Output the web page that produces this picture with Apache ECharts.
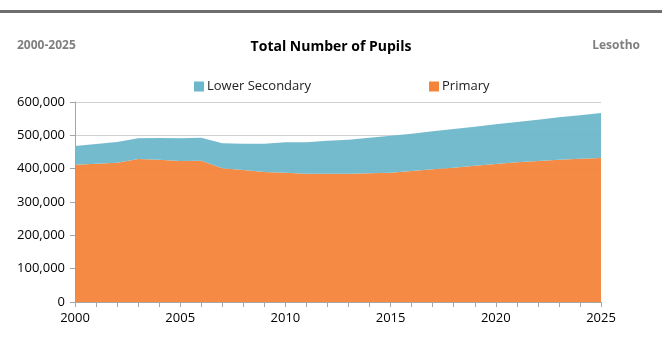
<!DOCTYPE html>
<html>
<head>
<meta charset="utf-8">
<script src="https://cdn.jsdelivr.net/npm/echarts@6/dist/echarts.min.js"></script>
<style>
  html, body { margin: 0; padding: 0; background: #fff; }
  #chart { width: 662px; height: 362px; }
</style>
</head>
<body>
<div id="chart"></div>
<script>
// Lesotho pupils, stacked area
const years = [2000,2001,2002,2003,2004,2005,2006,2007,2008,2009,2010,2011,2012,
  2013,2014,2015,2016,2017,2018,2019,2020,2021,2022,2023,2024,2025];

const primary = [412000,415000,418000,429000,427000,423000,424000,401000,396000,390000,
  388000,385000,385000,385000,386000,388000,393000,398000,403000,409000,414000,419000,
  423000,427000,430000,432000];

const lowerSecondary = [56000,59000,62000,62000,65000,68000,69000,75000,79000,85000,
  91000,94000,99000,102000,107000,111000,112000,114000,116000,117000,119000,121000,
  124000,127000,130000,135000];

const font = "'Open Sans', 'Liberation Sans', sans-serif";

const option = {
  animation: false,
  graphic: [
    { type: 'rect', left: 0, top: 10, shape: { width: 662, height: 3 }, style: { fill: '#6e6e6e' } }
  ],
  title: [
    { text: 'Total Number of Pupils', left: 'center', top: 35,
      textStyle: { fontFamily: font, fontSize: 14, fontWeight: 'bold', color: '#000' } },
    { text: '2000-2025', left: 12, top: 35,
      textStyle: { fontFamily: font, fontSize: 12, fontWeight: 'bold', color: '#7f7f7f' } },
    { text: 'Lesotho', right: 17, top: 35,
      textStyle: { fontFamily: font, fontSize: 12, fontWeight: 'bold', color: '#7f7f7f' } }
  ],
  legend: [
    { data: ['Lower Secondary'], left: 189, top: 75, icon: 'rect', itemWidth: 10, itemHeight: 10,
      itemGap: 5, textStyle: { fontFamily: font, fontSize: 13, color: '#222', padding: [0, 0, 0, -2] } },
    { data: ['Primary'], left: 424, top: 75, icon: 'rect', itemWidth: 10, itemHeight: 10,
      textStyle: { fontFamily: font, fontSize: 13, color: '#222', padding: [0, 0, 0, -2] } }
  ],
  grid: { left: 75, right: 61, top: 102, bottom: 60 },
  xAxis: {
    type: 'category',
    data: years,
    boundaryGap: false,
    axisLine: { lineStyle: { color: '#a6a6a6' } },
    axisTick: { show: true, interval: 0, length: 5, lineStyle: { color: '#a6a6a6' } },
    axisLabel: {
      interval: 0,
      fontFamily: font, fontSize: 13, color: '#000', margin: 10,
      formatter: v => (Number(v) % 5 === 0 ? v : '')
    }
  },
  yAxis: {
    type: 'value',
    min: 0,
    max: 600000,
    interval: 100000,
    axisLine: { show: true, lineStyle: { color: '#a6a6a6' } },
    axisTick: { show: true, length: 5, lineStyle: { color: '#a6a6a6' } },
    axisLabel: {
      fontFamily: font, fontSize: 13, color: '#000', margin: 10,
      formatter: v => v.toLocaleString('en-US')
    },
    splitLine: { lineStyle: { color: '#d0d0d0' } }
  },
  series: [
    {
      name: 'Primary',
      type: 'line',
      stack: 'total',
      data: primary,
      symbol: 'none',
      lineStyle: { width: 0 },
      itemStyle: { color: '#f4843a' },
      areaStyle: { color: '#f4843a', opacity: 0.95 }
    },
    {
      name: 'Lower Secondary',
      type: 'line',
      stack: 'total',
      data: lowerSecondary,
      symbol: 'none',
      lineStyle: { width: 0 },
      itemStyle: { color: '#6db7cb' },
      areaStyle: { color: '#6db7cb', opacity: 0.95 }
    }
  ]
};

const chart = echarts.init(document.getElementById('chart'));
chart.setOption(option);
window.addEventListener('resize', () => chart.resize());
</script>
</body>
</html>
